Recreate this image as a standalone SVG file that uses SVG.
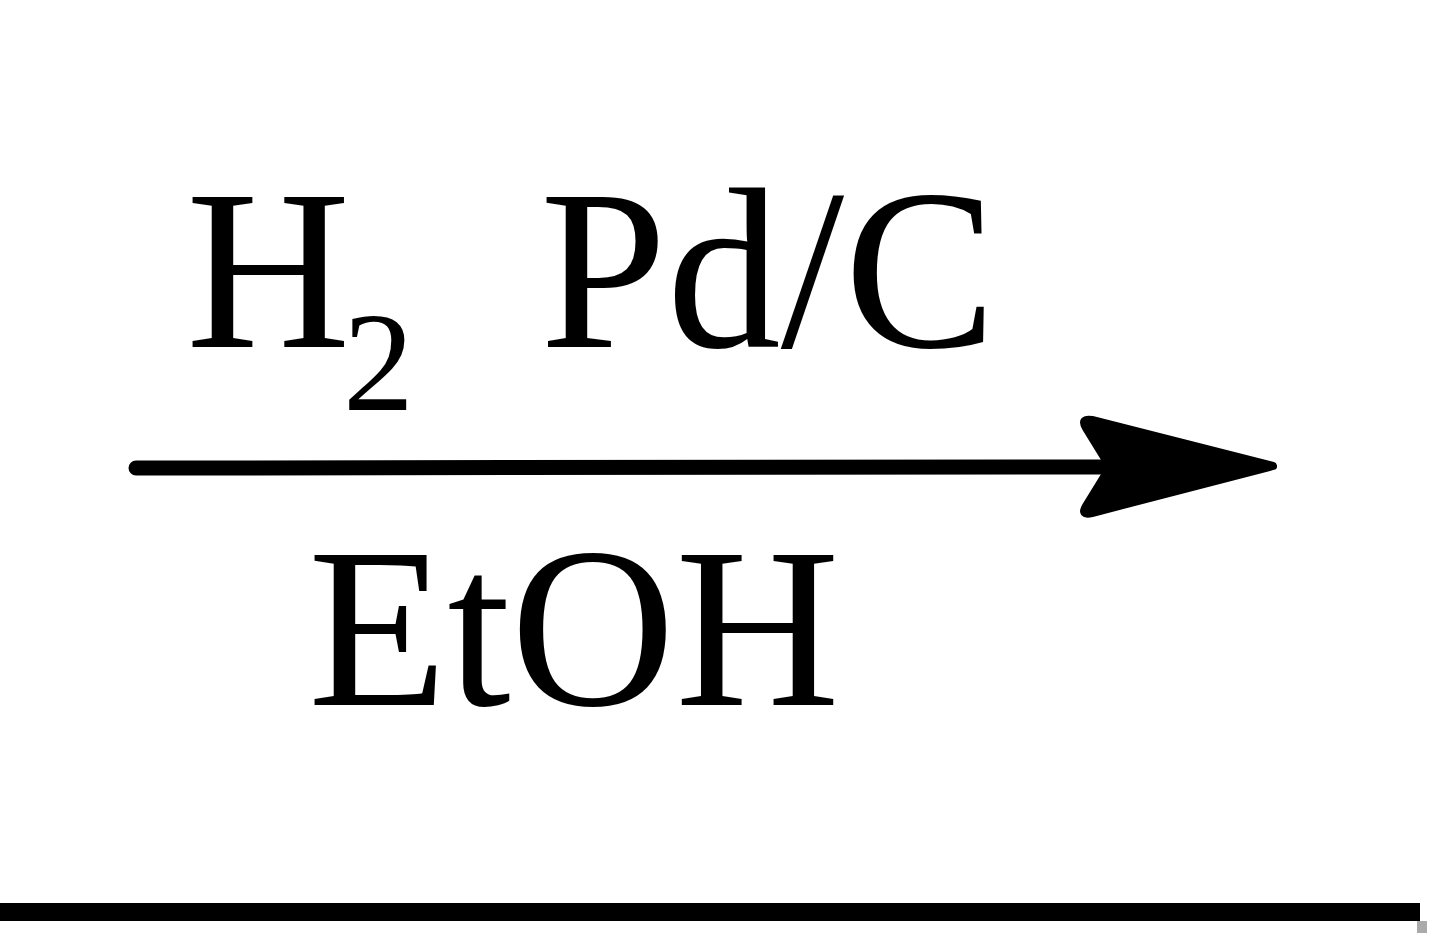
<svg xmlns="http://www.w3.org/2000/svg" width="1440" height="933" viewBox="0 0 1440 933">
<style>
.t{font-family:"Liberation Serif","Times New Roman",serif;fill:#000}
</style>
<rect width="1440" height="933" fill="#fff"/>
<g id="reagents">
<text class="t" x="186" y="347" font-size="228">H</text>
<text class="t" x="343" y="410" font-size="142">2</text>
<text class="t" x="540" y="347" font-size="228">Pd/C</text>
</g>
<g id="solvent">
<text class="t" x="308" y="705" font-size="228">EtOH</text>
</g>
<g id="connectors">
<line x1="136" y1="468" x2="1110" y2="467" stroke="#000" stroke-width="15" stroke-linecap="round"/>
<path d="M1273,466 L1092,420 Q1080,418 1086,428 L1110,467 L1086,506 Q1080,516 1092,513 Z" fill="#000" stroke="#000" stroke-width="8" stroke-linejoin="round"/>
</g>
<g id="baseline">
<rect x="0" y="903" width="1420" height="18" fill="#000"/>
<rect x="1417" y="921" width="10" height="12" fill="#aaa"/>
</g>
</svg>
